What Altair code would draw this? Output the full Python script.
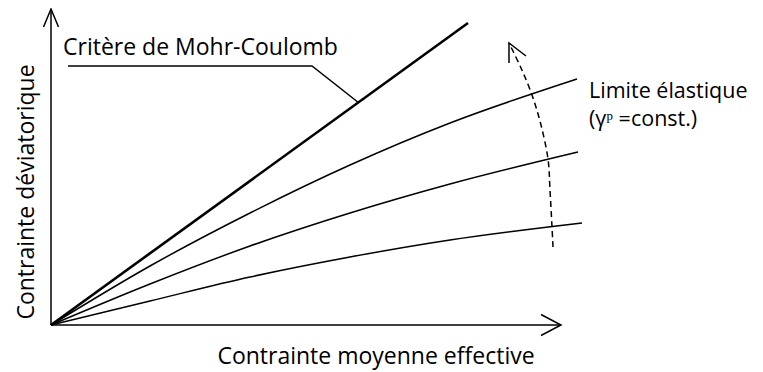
import altair as alt
import pandas as pd

# ---- values (schematic units, origin at 0,0) ----
x_axis_end = 510
y_axis_end = 316

mohr_x = [0, 417]
mohr_y = [0, 302]

c1_x = [0, 99, 199, 299, 399, 526]
c1_y = [0, 59, 112, 160, 202, 246]
c2_x = [0, 99, 199, 299, 399, 527]
c2_y = [0, 41, 79, 112, 141, 173]
c3_x = [0, 99, 199, 299, 399, 531]
c3_y = [0, 24, 48, 68, 85, 102]

arc_x = [502, 501, 499, 497, 490, 481, 470, 458]
arc_y = [78, 98, 135, 166, 200, 230, 257, 282]

leader_x = [17, 261, 308]
leader_y = [259, 259, 222]

label_texts = ["Critère de Mohr-Coulomb", "Limite élastique", "(γᵖ =const.)"]
label_x = [12, 538, 538]
label_y = [270, 227, 199]
label_size = [23, 21.5, 21.5]

x_title = "Contrainte moyenne effective"
y_title = "Contrainte déviatorique"

FONT = "Open Sans"

xs = alt.Scale(domain=[-43, 704])
ys = alt.Scale(domain=[-47, 317])


def seg_df(groups):
    rows = []
    for g, (xx, yy) in enumerate(groups):
        for i, (a, b) in enumerate(zip(xx, yy)):
            rows.append({"g": g, "o": i, "x": a, "y": b})
    return pd.DataFrame(rows)


def enc(ch):
    return ch.encode(
        x=alt.X("x:Q", scale=xs, axis=None),
        y=alt.Y("y:Q", scale=ys, axis=None),
        detail="g:N",
        order="o:Q",
    )


frame = seg_df([
    ([0, x_axis_end], [0, 0]),
    ([0, 0], [0, y_axis_end]),
    ([x_axis_end - 20, x_axis_end, x_axis_end - 20], [10.5, 0, -10.5]),
    ([-7.5, 0, 7.5], [y_axis_end - 18, y_axis_end, y_axis_end - 18]),
    (leader_x, leader_y),
    ([arc_x[-1] + 17, arc_x[-1], arc_x[-1]], [arc_y[-1] - 13, arc_y[-1], arc_y[-1] - 20]),
])
frame_layer = enc(alt.Chart(frame).mark_line(color="black", strokeWidth=1.5))

mohr_layer = enc(alt.Chart(seg_df([(mohr_x, mohr_y)])).mark_line(color="black", strokeWidth=2.6))

curves_layer = enc(alt.Chart(seg_df([(c1_x, c1_y), (c2_x, c2_y), (c3_x, c3_y)])).mark_line(
    color="black", strokeWidth=1.5, interpolate="monotone"))

arc_layer = enc(alt.Chart(seg_df([(arc_x, arc_y)])).mark_line(
    color="black", strokeWidth=1.5, strokeDash=[6, 4], interpolate="cardinal"))

lab_df = pd.DataFrame({"x": label_x, "y": label_y, "t": label_texts, "s": label_size})
labels_layer = alt.Chart(lab_df).mark_text(
    align="left", baseline="alphabetic", font=FONT, color="black"
).encode(
    x=alt.X("x:Q", scale=xs, axis=None),
    y=alt.Y("y:Q", scale=ys, axis=None),
    text="t:N",
    size=alt.Size("s:Q", scale=None, legend=None),
)

xt_layer = alt.Chart(pd.DataFrame({"x": [325], "y": [-39], "t": [x_title]})).mark_text(
    align="center", baseline="alphabetic", font=FONT, fontSize=23, color="black"
).encode(x=alt.X("x:Q", scale=xs, axis=None), y=alt.Y("y:Q", scale=ys, axis=None), text="t:N")

yt_layer = alt.Chart(pd.DataFrame({"x": [-24], "y": [133], "t": [y_title]})).mark_text(
    align="center", baseline="middle", angle=270, font=FONT, fontSize=23, color="black"
).encode(x=alt.X("x:Q", scale=xs, axis=None), y=alt.Y("y:Q", scale=ys, axis=None), text="t:N")

chart = alt.layer(
    frame_layer, mohr_layer, curves_layer, arc_layer, labels_layer, xt_layer, yt_layer
).properties(
    width=747, height=364, padding=0, autosize=alt.AutoSizeParams(type="none")
).configure_view(stroke=None)

chart.save("out.html", embed_options={"renderer": "svg", "actions": False})
